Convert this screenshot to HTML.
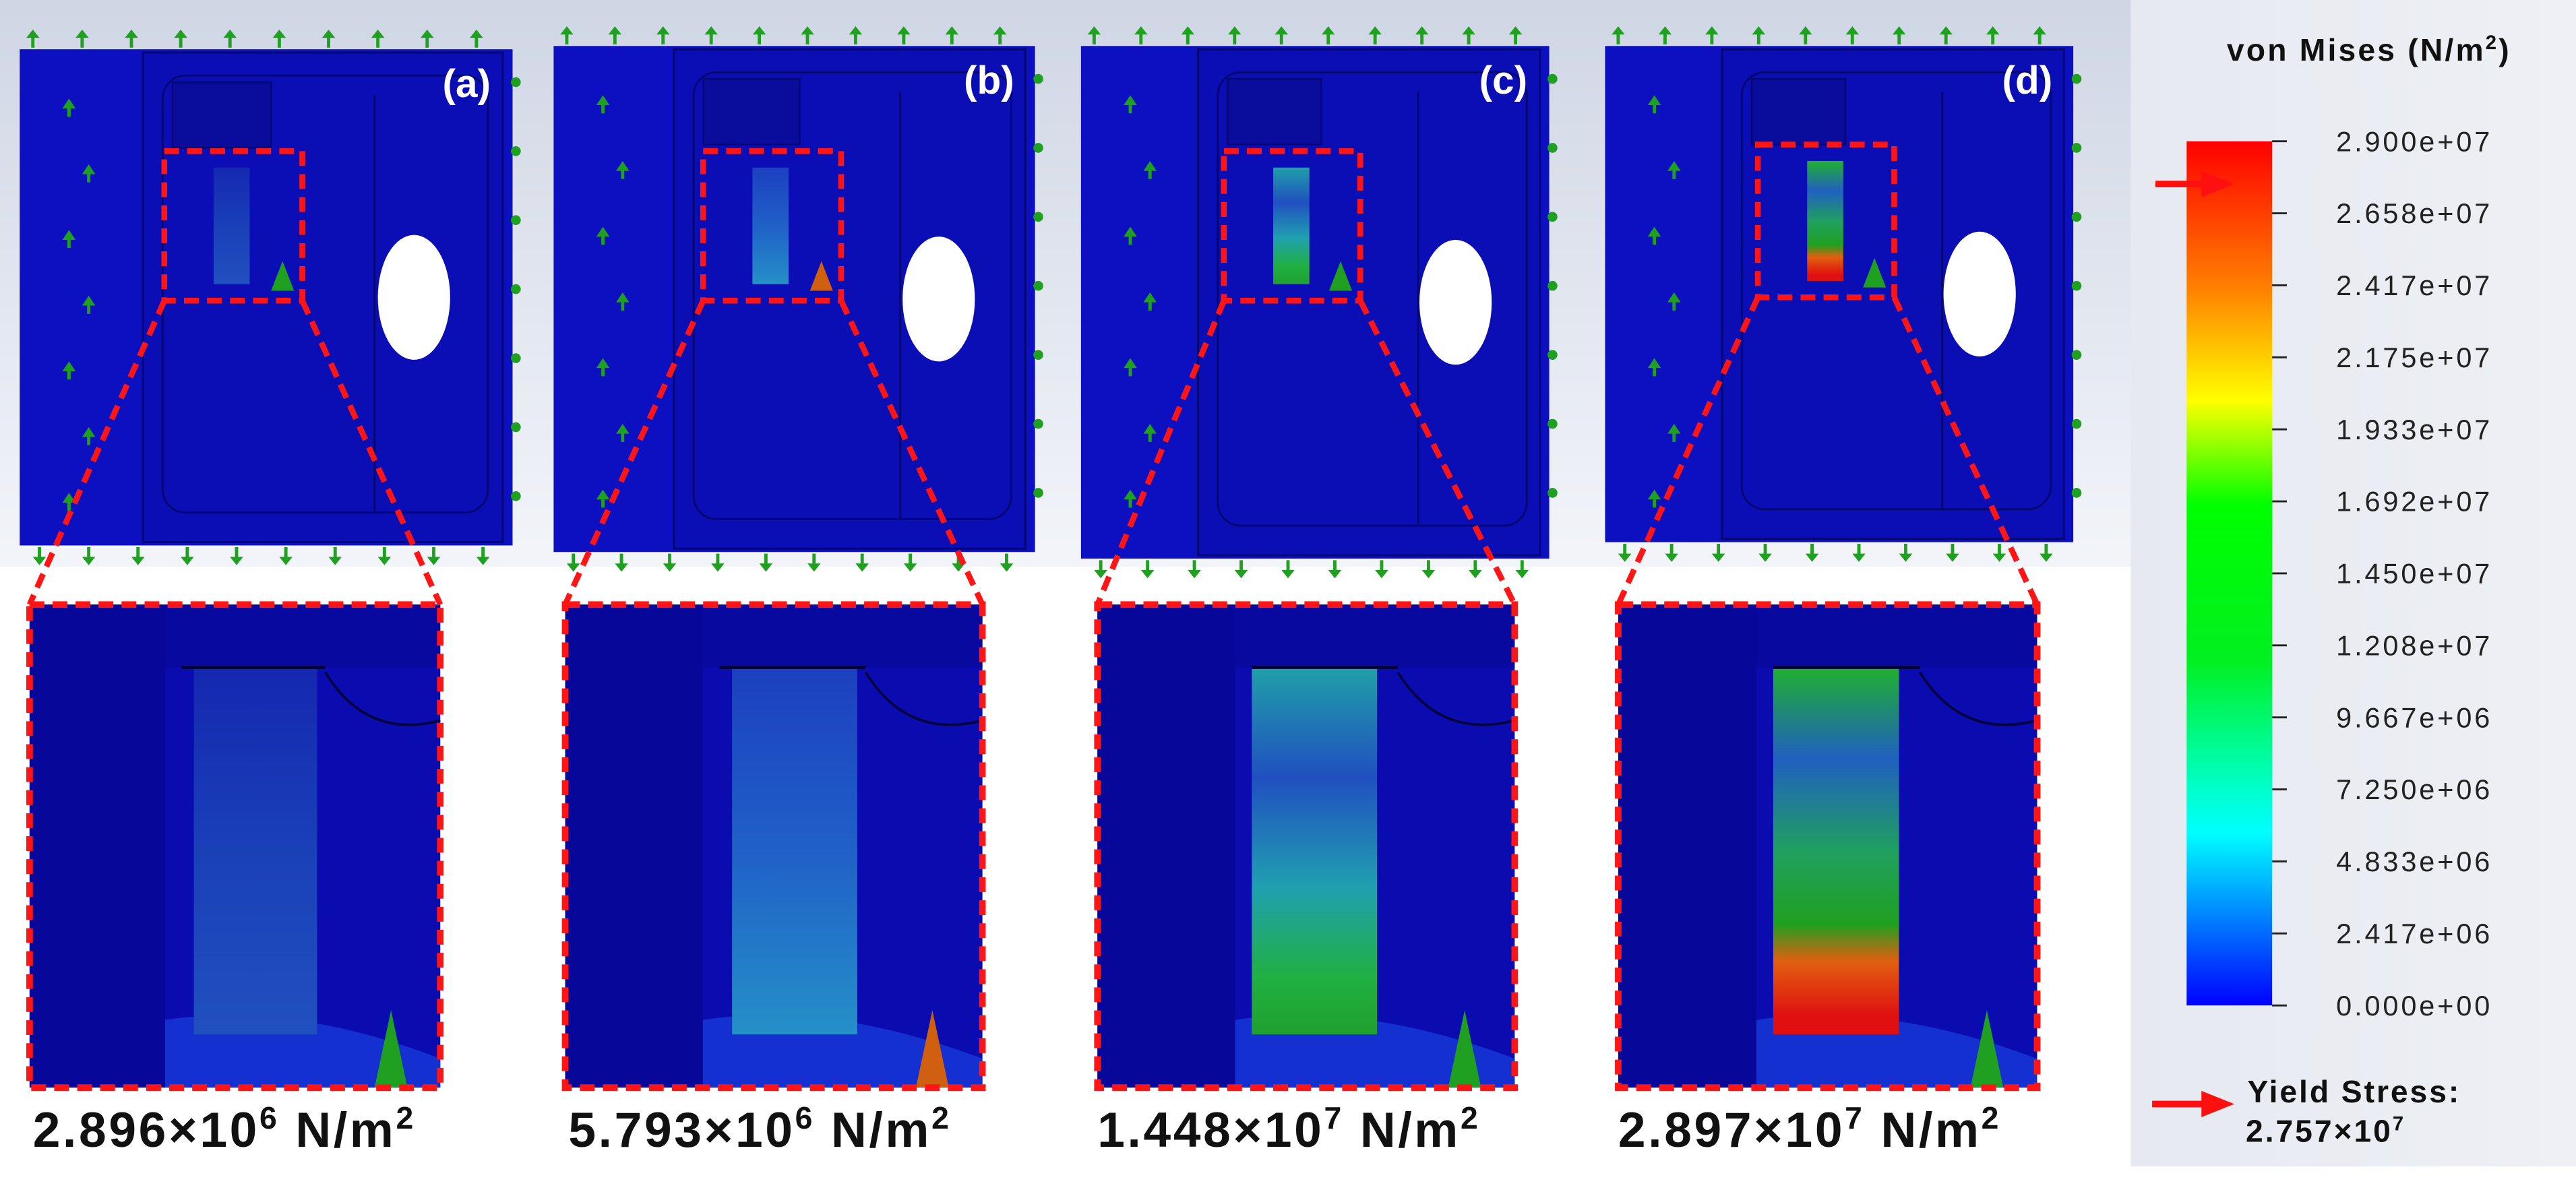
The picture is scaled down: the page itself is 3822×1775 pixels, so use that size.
<!DOCTYPE html>
<html><head><meta charset="utf-8">
<style>
html,body{margin:0;padding:0;background:#fff;}
svg{display:block;font-family:"Liberation Sans","DejaVu Sans",sans-serif;}
</style></head>
<body>
<svg id="fig" width="3822" height="1775" viewBox="0 0 1568 728" preserveAspectRatio="none" xmlns="http://www.w3.org/2000/svg">
<defs>
<linearGradient id="bgtop" x1="0" y1="0" x2="0" y2="1">
<stop offset="0" stop-color="#cfd6e4"/><stop offset="1" stop-color="#f4f6fa"/></linearGradient>
<linearGradient id="cbar" x1="0" y1="0" x2="0" y2="1">
<stop offset="0" stop-color="#ff0000"/><stop offset="0.17" stop-color="#ff8000"/>
<stop offset="0.30" stop-color="#ffff00"/><stop offset="0.36" stop-color="#80ff00"/>
<stop offset="0.42" stop-color="#00ff00"/><stop offset="0.6" stop-color="#00f020"/>
<stop offset="0.74" stop-color="#00ffc0"/><stop offset="0.8" stop-color="#00ffff"/>
<stop offset="0.9" stop-color="#0080ff"/><stop offset="1" stop-color="#0000ff"/></linearGradient>
<linearGradient id="colA" x1="0" y1="0" x2="0" y2="1"><stop offset="0" stop-color="#1428b0"/><stop offset="0.5" stop-color="#1a40b8"/><stop offset="1" stop-color="#2050c0"/></linearGradient>
<linearGradient id="colB" x1="0" y1="0" x2="0" y2="1"><stop offset="0" stop-color="#1c40c0"/><stop offset="0.5" stop-color="#2060c8"/><stop offset="1" stop-color="#2590c8"/></linearGradient>
<linearGradient id="colC" x1="0" y1="0" x2="0" y2="1"><stop offset="0" stop-color="#20a0a8"/><stop offset="0.3" stop-color="#2050c0"/><stop offset="0.6" stop-color="#20a0b0"/><stop offset="0.85" stop-color="#20b040"/><stop offset="1" stop-color="#20a030"/></linearGradient>
<linearGradient id="colD" x1="0" y1="0" x2="0" y2="1"><stop offset="0" stop-color="#20b030"/><stop offset="0.25" stop-color="#2060c0"/><stop offset="0.5" stop-color="#20a060"/><stop offset="0.7" stop-color="#20a020"/><stop offset="0.8" stop-color="#e06010"/><stop offset="0.95" stop-color="#e01010"/></linearGradient>
<linearGradient id="rightbg" x1="0" y1="0" x2="1" y2="0"><stop offset="0" stop-color="#e6e9f0"/><stop offset="1" stop-color="#eef0f5"/></linearGradient>
</defs>
<rect x="0" y="0" width="1300" height="360" fill="url(#bgtop)"/>
<rect x="0" y="345" width="1300" height="400" fill="#ffffff"/>
<rect x="1297" y="0" width="271" height="710" fill="url(#rightbg)"/>
<g id="panels"></g>
<g id="legend">
<text x="1442" y="37" font-size="19" font-weight="bold" letter-spacing="1.3" text-anchor="middle" fill="#111">von Mises (N/m<tspan font-size="12" dy="-7">2</tspan><tspan dy="7">)</tspan></text>
<rect x="1331" y="86" width="52" height="526" fill="url(#cbar)"/>
<g id="ticks"></g>
<line x1="1312" y1="112" x2="1345" y2="112" stroke="#ff1010" stroke-width="4"/>
<polygon points="1340,104 1360,112 1340,120" fill="#ff1010"/>
<line x1="1310" y1="672" x2="1345" y2="672" stroke="#ff1010" stroke-width="4"/>
<polygon points="1340,664 1360,672 1340,680" fill="#ff1010"/>
<text x="1368" y="671" font-size="19" font-weight="bold" letter-spacing="1.2" fill="#111">Yield Stress:</text>
<text x="1367" y="695" font-size="19" font-weight="bold" letter-spacing="1.2" fill="#111">2.757×10<tspan font-size="12" dy="-7">7</tspan></text>
</g>
</svg>
<script>
const tickLabels=["2.900e+07","2.658e+07","2.417e+07","2.175e+07","1.933e+07","1.692e+07","1.450e+07","1.208e+07","9.667e+06","7.250e+06","4.833e+06","2.417e+06","0.000e+00"];
const panelTags=["(a)","(b)","(c)","(d)"];
const panelMant=["2.896","5.793","1.448","2.897"];
const panelExp=["6","6","7","7"];
const NS="http://www.w3.org/2000/svg";
function mk(p,tag,at){const e=document.createElementNS(NS,tag);for(const k in at)e.setAttribute(k,at[k]);p.appendChild(e);return e;}
const tk=document.getElementById('ticks');
const y0=86,y1=612;
tickLabels.forEach((t,i)=>{
  const y=y0+(y1-y0)*i/(tickLabels.length-1);
  const l=mk(tk,'line',{x1:1383,y1:y,x2:1392,y2:y,stroke:'#222','stroke-width':1.2});
  
  
  const tx=mk(tk,'text',{x:1422,y:y+6,'font-size':17,'letter-spacing':1.6,fill:'#222'});
  tx.textContent=t;
  
  
});
const geo=[
 {mx:12,mw:300,my:30,mh:302,bx:100,by:92,bw:84,bh:91,zx:18,zw:250,lx:20,col:'url(#colA)',arrow:'#20a020'},
 {mx:337,mw:293,my:28,mh:308,bx:428,by:92,bw:84,bh:91,zx:344,zw:254,lx:346,col:'url(#colB)',arrow:'#d06010'},
 {mx:658,mw:285,my:28,mh:312,bx:745,by:92,bw:83,bh:91,zx:668,zw:254,lx:668,col:'url(#colC)',arrow:'#20a020'},
 {mx:977,mw:285,my:28,mh:302,bx:1070,by:88,bw:83,bh:93,zx:985,zw:255,lx:985,col:'url(#colD)',arrow:'#20a020'}];
const P=document.getElementById('panels');
geo.forEach((g,i)=>{
  const G=mk(P,'g',{});
  
  
  const m=mk(G,'rect',{x:g.mx,y:g.my,width:g.mw,height:g.mh,fill:'#0c10c0'});
  
  
  const fx=g.mx+0.25*g.mw;
  mk(G,'rect',{x:fx,y:g.my+2,width:g.mw*0.73,height:g.mh-4,fill:'#0a0eb4',stroke:'#050870','stroke-width':1.2});
  mk(G,'rect',{x:fx+12,y:g.my+16,width:g.mw*0.66,height:g.mh-36,rx:14,fill:'none',stroke:'#050870','stroke-width':1.2});
  mk(G,'rect',{x:fx+18,y:g.my+20,width:g.mw*0.2,height:40,fill:'#0a0c9c',stroke:'#050870','stroke-width':1});
  mk(G,'line',{x1:g.mx+0.72*g.mw,y1:g.my+28,x2:g.mx+0.72*g.mw,y2:g.my+g.mh-20,stroke:'#050870','stroke-width':1.2});
  mk(G,'ellipse',{cx:g.mx+0.8*g.mw,cy:g.my+0.5*g.mh,rx:22,ry:38,fill:'#ffffff'});
  mk(G,'rect',{x:g.bx+30,y:g.by+10,width:22,height:g.bh-20,fill:g.col});
  for(let k=0;k<10;k++){
    const ax=g.mx+8+k*g.mw/10, ay=g.my-2;
    mk(G,'path',{d:`M${ax} ${ay-10}l-4 5h3v6h2v-6h3z`,fill:'#20a020'});
    mk(G,'path',{d:`M${ax+4} ${g.my+g.mh+12}l-4 -5h3v-6h2v6h3z`,fill:'#20a020'});
  }
  for(let k=0;k<7;k++){
    mk(G,'circle',{cx:g.mx+g.mw+2,cy:g.my+20+k*42,r:3,fill:'#20a020'});
    mk(G,'path',{d:`M${g.mx+30+(k%2)*12} ${g.my+30+k*40}l-4 6h3v5h2v-5h3z`,fill:'#20a020'});
  }
  mk(G,'path',{d:`M${g.bx+g.bw-12} ${g.by+g.bh-24}l-7 18h14z`,fill:g.arrow});
  const tg=mk(G,'text',{x:g.mx+g.mw-28,y:g.my+29,'font-size':24,'font-weight':'bold',fill:'#fff','text-anchor':'middle'});
  tg.textContent=panelTags[i];
  
  
  const zy=368,zh=294,zx=g.zx,zw=g.zw;
  mk(G,'rect',{x:zx,y:zy,width:zw,height:zh,fill:'#0a0cb0'});
  mk(G,'rect',{x:zx,y:zy,width:zw*0.33,height:zh,fill:'#07089a'});
  mk(G,'rect',{x:zx+zw*0.33,y:zy,width:zw*0.67,height:zh*0.13,fill:'#08099e'});
  mk(G,'path',{d:`M${zx+zw*0.72} ${zy+zh*0.14}q${zw*0.1} ${zh*0.14} ${zw*0.28} ${zh*0.1}`,fill:'none',stroke:'#02033c','stroke-width':1.5});
  mk(G,'path',{d:`M${zx+zw*0.33} ${zy+zh*0.86}q${zw*0.3} -${zh*0.04} ${zw*0.67} ${zh*0.08}v${zh*0.06}h-${zw*0.67}z`,fill:'#1530d0'});
  const c=mk(G,'rect',{x:zx+zw*(i>1?0.37:0.4),y:zy+zh*0.13,width:zw*0.3,height:zh*0.76,fill:g.col});
  
  
  mk(G,'line',{x1:zx+zw*0.37,y1:zy+zh*0.13,x2:zx+zw*0.72,y2:zy+zh*0.13,stroke:'#02033c','stroke-width':2});
  mk(G,'path',{d:`M${zx+zw*0.88} ${zy+zh*0.84}l-10 ${zh*0.16}h20z`,fill:g.arrow});
  const zb=mk(G,'rect',{x:zx,y:zy,width:zw,height:zh,fill:'none',stroke:'#ff1515','stroke-width':4,'stroke-dasharray':'9 5'});
  
  
  const sb=mk(G,'rect',{x:g.bx,y:g.by,width:g.bw,height:g.bh,fill:'none',stroke:'#ff1515','stroke-width':3.5,'stroke-dasharray':'9 5'});
  
  
  mk(G,'line',{x1:g.bx,y1:g.by+g.bh,x2:zx,y2:zy,stroke:'#ff1515','stroke-width':3.5,'stroke-dasharray':'9 5'});
  mk(G,'line',{x1:g.bx+g.bw,y1:g.by+g.bh,x2:zx+zw,y2:zy,stroke:'#ff1515','stroke-width':3.5,'stroke-dasharray':'9 5'});
  const lb=mk(G,'text',{x:g.lx,y:698,'font-size':30,'font-weight':'bold','letter-spacing':1.5,fill:'#111'});
  lb.innerHTML=panelMant[i]+'×10<tspan font-size="19" dy="-11">'+panelExp[i]+'</tspan><tspan dy="11"> N/m</tspan><tspan font-size="19" dy="-11">2</tspan>';
  
  
});
</script>
</body></html>
